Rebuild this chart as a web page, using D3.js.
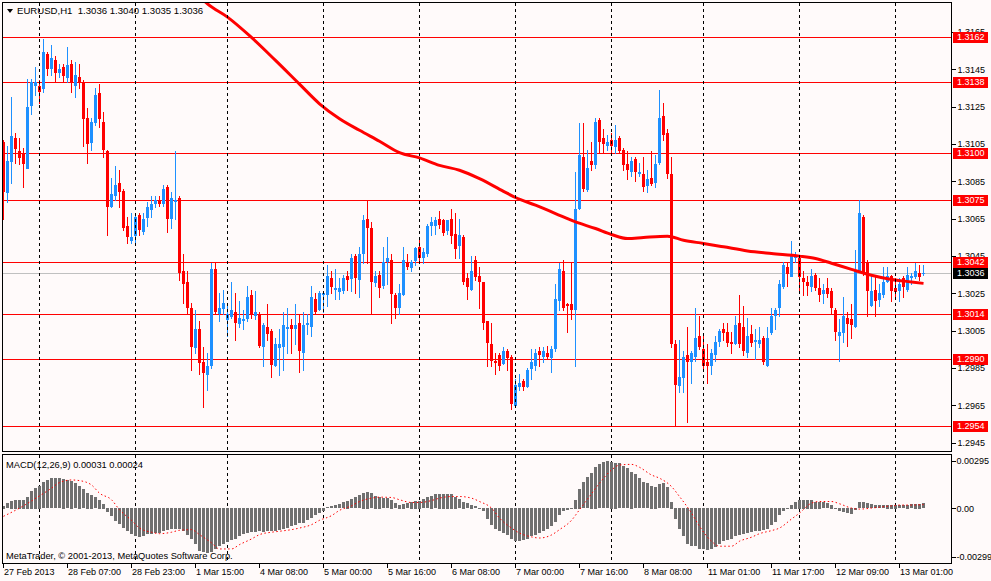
<!DOCTYPE html>
<html>
<head>
<meta charset="utf-8">
<script src="https://cdn.jsdelivr.net/npm/d3@7"></script>
<style>
  html, body { margin: 0; padding: 0; background: #fffafa; }
  svg { display: block; font-family: "Liberation Sans", Arial, sans-serif; }
  .tk text { font-size: 9px; fill: #000; }
</style>
</head>
<body>
<svg id="chart" width="991" height="581"></svg>
<script>
// EURUSD H1 bars, 27 Feb 2013 15:00 .. 13 Mar 2013 06:00
var opens = [
  1.3106,1.3079,1.3095,1.3108,1.3101,1.3100,1.3092,1.3125,1.3136,1.3136,
  1.3134,1.3153,1.3145,1.3150,1.3143,1.3146,1.3140,1.3148,1.3136,1.3141,
  1.3138,1.3119,1.3106,1.3116,1.3132,1.3117,1.3101,1.3071,1.3077,1.3084,
  1.3080,1.3061,1.3053,1.3056,1.3067,1.3058,1.3065,1.3070,1.3073,1.3075,
  1.3073,1.3082,1.3065,1.3074,1.3076,1.3037,1.3031,1.3017,1.2996,1.3006,
  1.2988,1.2981,1.2986,1.3038,1.3014,1.3017,1.3011,1.3012,1.3015,1.3009,
  1.3010,1.3011,1.3024,1.3013,1.3014,1.2996,1.3007,1.3005,1.2986,1.2996,
  1.2996,1.3006,1.3008,1.3006,1.3009,1.2993,1.3008,1.3007,1.3022,1.3016,
  1.3024,1.3024,1.3033,1.3027,1.3026,1.3026,1.3034,1.3033,1.3045,1.3032,
  1.3046,1.3065,1.3060,1.3030,1.3035,1.3029,1.3042,1.3043,1.3024,1.3017,
  1.3024,1.3041,1.3039,1.3042,1.3050,1.3044,1.3046,1.3061,1.3061,1.3065,
  1.3064,1.3058,1.3065,1.3057,1.3050,1.3055,1.3033,1.3027,1.3043,1.3034,
  1.3031,1.3010,1.2998,1.2989,1.2992,1.2987,1.2994,1.2991,1.2965,1.2975,
  1.2978,1.2975,1.2984,1.2986,1.2994,1.2991,1.2993,1.2990,1.2995,1.3021,
  1.3037,1.3019,1.3019,1.3016,1.3070,1.3098,1.3080,1.3096,1.3094,1.3118,
  1.3108,1.3104,1.3107,1.3103,1.3108,1.3102,1.3094,1.3090,1.3097,1.3089,
  1.3089,1.3082,1.3087,1.3084,1.3095,1.3120,1.3111,1.3089,1.2998,1.2975,
  1.2980,1.2992,1.2988,1.2991,1.3002,1.2995,1.2988,1.2986,1.2992,1.2999,
  1.3006,1.3004,1.2999,1.2998,1.3009,1.3007,1.2993,1.3003,1.2999,1.2998,
  1.3001,1.2986,1.3004,1.3013,1.3017,1.3028,1.3039,1.3034,1.3044,1.3044,
  1.3033,1.3031,1.3028,1.3035,1.3028,1.3025,1.3028,1.3026,1.3016,1.3002,
  1.3004,1.3012,1.3011,1.3007,1.3037,1.3066,1.3041,1.3018,1.3027,1.3021,
  1.3024,1.3031,1.3034,1.3028,1.3026,1.3033,1.3027,1.3033,1.3034,1.3036,
  1.3036
];
var highs = [
  1.3107,1.3104,1.3130,1.3111,1.3108,1.3103,1.3140,1.3140,1.3146,1.3139,
  1.3161,1.3154,1.3158,1.3152,1.3148,1.3148,1.3157,1.3150,1.3149,1.3148,
  1.3139,1.3124,1.3119,1.3135,1.3137,1.3122,1.3102,1.3087,1.3093,1.3091,
  1.3081,1.3066,1.3068,1.3068,1.3068,1.3068,1.3074,1.3077,1.3077,1.3077,
  1.3083,1.3083,1.3079,1.3101,1.3077,1.3046,1.3037,1.3020,1.3016,1.3010,
  1.2996,1.2993,1.3041,1.3041,1.3025,1.3027,1.3019,1.3031,1.3025,1.3021,
  1.3016,1.3029,1.3027,1.3026,1.3015,1.3009,1.3019,1.3006,1.3001,1.3006,
  1.3015,1.3017,1.3011,1.3019,1.3014,1.3015,1.3014,1.3029,1.3025,1.3026,
  1.3026,1.3040,1.3037,1.3038,1.3033,1.3035,1.3037,1.3046,1.3046,1.3050,
  1.3067,1.3075,1.3063,1.3037,1.3037,1.3050,1.3055,1.3046,1.3025,1.3030,
  1.3050,1.3046,1.3043,1.3050,1.3054,1.3049,1.3062,1.3066,1.3066,1.3069,
  1.3065,1.3064,1.3070,1.3068,1.3065,1.3056,1.3036,1.3045,1.3045,1.3039,
  1.3031,1.3010,1.3009,1.2993,1.2993,1.2996,1.2995,1.2992,1.2979,1.2982,
  1.2979,1.2985,1.2995,1.2995,1.2996,1.2996,1.2997,1.2997,1.3030,1.3041,
  1.3043,1.3020,1.3041,1.3090,1.3116,1.3116,1.3102,1.3106,1.3119,1.3119,
  1.3113,1.3110,1.3111,1.3115,1.3109,1.3103,1.3101,1.3098,1.3098,1.3095,
  1.3098,1.3091,1.3101,1.3099,1.3134,1.3127,1.3113,1.3098,1.3000,1.3000,
  1.2994,1.3007,1.2994,1.3017,1.3013,1.3003,1.2998,1.2995,1.3002,1.3006,
  1.3009,1.3009,1.3004,1.3013,1.3024,1.3018,1.3012,1.3008,1.3006,1.3007,
  1.3002,1.3007,1.3017,1.3017,1.3032,1.3042,1.3042,1.3053,1.3047,1.3045,
  1.3037,1.3034,1.3038,1.3036,1.3033,1.3030,1.3033,1.3028,1.3017,1.3011,
  1.3023,1.3015,1.3019,1.3048,1.3075,1.3067,1.3043,1.3035,1.3034,1.3030,
  1.3039,1.3039,1.3035,1.3033,1.3033,1.3034,1.3039,1.3036,1.3041,1.3040,
  1.3040
];
var lows = [
  1.3065,1.3074,1.3084,1.3095,1.3094,1.3082,1.3092,1.3121,1.3131,1.3127,
  1.3133,1.3142,1.3142,1.3138,1.3141,1.3138,1.3138,1.3133,1.3130,1.3135,
  1.3104,1.3095,1.3102,1.3115,1.3114,1.3098,1.3056,1.3071,1.3075,1.3071,
  1.3059,1.3052,1.3052,1.3051,1.3056,1.3057,1.3061,1.3066,1.3071,1.3072,
  1.3072,1.3058,1.3060,1.3065,1.3032,1.3020,1.3014,1.2984,1.2993,1.2982,
  1.2964,1.2973,1.2985,1.3014,1.3010,1.3014,1.3002,1.3012,1.3000,1.3007,
  1.3006,1.3010,1.3012,1.3011,1.2996,1.2986,1.3000,1.2980,1.2986,1.2981,
  1.2984,1.2993,1.2993,1.2998,1.2983,1.2984,1.3003,1.3002,1.3014,1.3016,
  1.3015,1.3018,1.3025,1.3022,1.3022,1.3025,1.3027,1.3026,1.3025,1.3023,
  1.3041,1.3041,1.3014,1.3029,1.3023,1.3028,1.3030,1.3009,1.3012,1.3014,
  1.3024,1.3038,1.3037,1.3040,1.3041,1.3041,1.3045,1.3056,1.3057,1.3060,
  1.3056,1.3057,1.3052,1.3044,1.3044,1.3030,1.3022,1.3027,1.3032,1.3017,
  1.3006,1.2986,1.2986,1.2982,1.2984,1.2987,1.2984,1.2963,1.2964,1.2973,
  1.2973,1.2975,1.2979,1.2984,1.2986,1.2988,1.2990,1.2983,1.2994,1.3016,
  1.3016,1.3004,1.3011,1.2986,1.3070,1.3080,1.3080,1.3091,1.3092,1.3100,
  1.3100,1.3102,1.3100,1.3100,1.3100,1.3091,1.3086,1.3088,1.3085,1.3088,
  1.3080,1.3079,1.3083,1.3082,1.3094,1.3107,1.3087,1.2996,1.2954,1.2972,
  1.2972,1.2956,1.2977,1.2989,1.2995,1.2984,1.2977,1.2982,1.2989,1.2997,
  1.3000,1.2997,1.2993,1.2998,1.2996,1.2992,1.2991,1.2997,1.2990,1.2996,
  1.2987,1.2986,1.3003,1.3006,1.3013,1.3028,1.3029,1.3034,1.3042,1.3027,
  1.3024,1.3024,1.3026,1.3027,1.3021,1.3020,1.3023,1.3014,1.3000,1.2989,
  1.2999,1.2997,1.3001,1.3007,1.3037,1.3035,1.3013,1.3018,1.3013,1.3018,
  1.3023,1.3031,1.3021,1.3022,1.3021,1.3023,1.3026,1.3030,1.3033,1.3032,
  1.3035
];
var closes = [
  1.3079,1.3096,1.3109,1.3102,1.3097,1.3094,1.3125,1.3138,1.3138,1.3133,
  1.3154,1.3145,1.3151,1.3143,1.3145,1.3141,1.3147,1.3138,1.3142,1.3138,
  1.3118,1.3105,1.3117,1.3131,1.3118,1.3102,1.3071,1.3078,1.3083,1.3079,
  1.3060,1.3055,1.3055,1.3066,1.3059,1.3065,1.3071,1.3073,1.3075,1.3073,
  1.3081,1.3065,1.3076,1.3075,1.3036,1.3030,1.3017,1.2996,1.3006,1.2988,
  1.2982,1.2986,1.3038,1.3015,1.3017,1.3020,1.3014,1.3016,1.3009,1.3012,
  1.3011,1.3023,1.3014,1.3015,1.2997,1.3008,1.3003,1.2987,1.2998,1.2998,
  1.3008,1.3007,1.3006,1.3008,1.2994,1.3008,1.3009,1.3023,1.3015,1.3025,
  1.3025,1.3034,1.3028,1.3028,1.3028,1.3033,1.3032,1.3044,1.3033,1.3046,
  1.3064,1.3060,1.3031,1.3034,1.3028,1.3042,1.3044,1.3025,1.3017,1.3025,
  1.3043,1.3039,1.3042,1.3049,1.3044,1.3047,1.3061,1.3063,1.3064,1.3062,
  1.3057,1.3064,1.3056,1.3049,1.3056,1.3031,1.3028,1.3037,1.3034,1.3031,
  1.3009,1.2998,1.2989,1.2988,1.2986,1.2994,1.2990,1.2966,1.2976,1.2977,
  1.2975,1.2984,1.2988,1.2993,1.2992,1.2994,1.2991,1.2995,1.3022,1.3038,
  1.3017,1.3018,1.3016,1.3070,1.3099,1.3081,1.3092,1.3094,1.3117,1.3106,
  1.3105,1.3106,1.3104,1.3107,1.3101,1.3094,1.3091,1.3096,1.3090,1.3090,
  1.3082,1.3086,1.3084,1.3094,1.3119,1.3110,1.3089,1.2998,1.2976,1.2980,
  1.2991,1.2988,1.2993,1.3001,1.2996,1.2986,1.2986,1.2993,1.2999,1.3005,
  1.3004,1.2998,1.2998,1.3008,1.2998,1.2994,1.3002,1.2998,1.3000,1.3000,
  1.2988,1.3001,1.3013,1.3016,1.3030,1.3040,1.3035,1.3045,1.3045,1.3034,
  1.3031,1.3029,1.3034,1.3028,1.3024,1.3027,1.3025,1.3017,1.3004,1.3004,
  1.3013,1.3009,1.3008,1.3037,1.3068,1.3036,1.3026,1.3026,1.3021,1.3025,
  1.3031,1.3034,1.3026,1.3026,1.3030,1.3028,1.3035,1.3034,1.3037,1.3034,
  1.3036
];

// moving average, read at knots along the thick red line
var maBars = [49, 51, 56, 62, 68, 74, 79, 84, 89, 94, 99, 104, 109, 114, 119, 125, 128, 133,
  138, 143, 148, 152, 156, 160, 166, 170, 175, 180, 186, 192, 199, 203, 207, 212, 217, 222, 227, 230];
var maValues = [1.31840, 1.31800, 1.31729, 1.31620, 1.31497, 1.31370, 1.31265, 1.31185, 1.31123,
  1.31064, 1.31003, 1.30975, 1.30935, 1.30909, 1.30864, 1.30796, 1.30763, 1.30722, 1.30677,
  1.30632, 1.30597, 1.30565, 1.30543, 1.30549, 1.30556, 1.30534, 1.30517, 1.30499, 1.30477,
  1.30463, 1.30449, 1.30436, 1.30411, 1.30378, 1.30347, 1.30324, 1.30311, 1.30303];

// MACD(12,26,9) main (histogram), one per bar
var macdMain = [
  0.00016,0.00033,0.00047,0.00054,0.00054,0.00054,0.00074,0.00109,0.00130,0.00140,
  0.00163,0.00177,0.00188,0.00188,0.00188,0.00184,0.00177,0.00173,0.00157,0.00142,
  0.00120,0.00099,0.00085,0.00070,0.00054,0.00029,-0.00025,-0.00049,-0.00080,-0.00101,
  -0.00126,-0.00146,-0.00163,-0.00177,-0.00179,-0.00177,-0.00163,-0.00159,-0.00157,-0.00153,
  -0.00142,-0.00136,-0.00132,-0.00132,-0.00132,-0.00142,-0.00169,-0.00194,-0.00225,-0.00266,
  -0.00276,-0.00280,-0.00272,-0.00252,-0.00239,-0.00225,-0.00210,-0.00198,-0.00190,-0.00177,
  -0.00163,-0.00153,-0.00148,-0.00148,-0.00146,-0.00148,-0.00146,-0.00142,-0.00142,-0.00138,
  -0.00132,-0.00124,-0.00115,-0.00107,-0.00095,-0.00091,-0.00074,-0.00064,-0.00045,-0.00033,
  -0.00019,0.00008,0.00012,0.00019,0.00027,0.00037,0.00049,0.00058,0.00070,0.00082,
  0.00099,0.00105,0.00095,0.00080,0.00074,0.00064,0.00064,0.00054,0.00033,0.00023,
  0.00029,0.00033,0.00043,0.00049,0.00049,0.00058,0.00070,0.00078,0.00089,0.00091,
  0.00091,0.00091,0.00091,0.00074,0.00058,0.00043,0.00033,0.00023,0.00012,-0.00003,
  -0.00019,-0.00070,-0.00107,-0.00128,-0.00146,-0.00157,-0.00169,-0.00190,-0.00204,-0.00204,
  -0.00198,-0.00190,-0.00177,-0.00165,-0.00153,-0.00142,-0.00128,-0.00111,-0.00087,-0.00045,
  -0.00021,-0.00012,-0.00004,0.00054,0.00122,0.00163,0.00194,0.00223,0.00260,0.00276,
  0.00287,0.00295,0.00291,0.00285,0.00280,0.00264,0.00249,0.00229,0.00214,0.00188,
  0.00163,0.00157,0.00140,0.00136,0.00151,0.00157,0.00132,0.00043,-0.00066,-0.00132,
  -0.00177,-0.00225,-0.00235,-0.00239,-0.00252,-0.00256,-0.00260,-0.00252,-0.00245,-0.00225,
  -0.00204,-0.00198,-0.00190,-0.00177,-0.00169,-0.00163,-0.00157,-0.00148,-0.00146,-0.00144,
  -0.00136,-0.00128,-0.00107,-0.00087,-0.00045,-0.00021,-0.00004,0.00023,0.00043,0.00054,
  0.00054,0.00054,0.00054,0.00043,0.00043,0.00037,0.00033,0.00023,-0.00008,-0.00019,
  -0.00025,-0.00029,-0.00039,-0.00012,0.00037,0.00039,0.00033,0.00027,0.00019,0.00019,
  0.00019,0.00023,0.00023,0.00023,0.00019,0.00019,0.00023,0.00027,0.00029,0.00029,
  0.00031
];

// MACD signal line, read at knots along the dotted red line
var sigBars = [0, 4, 9, 12, 14, 17, 19, 22, 24, 27, 29, 32, 34, 37, 39, 42, 44, 47, 49, 52, 54, 57,
  59, 62, 64, 67, 69, 72, 74, 77, 79, 82, 84, 87, 89, 92, 94, 97, 99, 102, 104, 107, 109, 112, 114,
  117, 119, 122, 124, 127, 129, 132, 134, 137, 139, 142, 144, 147, 149, 152, 154, 157, 159, 162,
  164, 167, 169, 172, 174, 177, 179, 182, 184, 187, 189, 192, 194, 197, 199, 202, 204, 207, 209,
  212, 214, 217, 219, 222, 224, 227, 230];
var sigValues = [-0.00049, 0.00002, 0.00078, 0.00126, 0.00161, 0.00177, 0.00173, 0.00146, 0.00095,
  0.00054, -0.00008, -0.00074, -0.00122, -0.00148, -0.00157, -0.00148, -0.00136, -0.00132, -0.00163,
  -0.00214, -0.00252, -0.00252, -0.00225, -0.00190, -0.00163, -0.00148, -0.00142, -0.00132, -0.00122,
  -0.00101, -0.00074, -0.00045, -0.00012, 0.00016, 0.00043, 0.00064, 0.00070, 0.00068, 0.00054,
  0.00037, 0.00037, 0.00049, 0.00064, 0.00074, 0.00074, 0.00064, 0.00043, 0.00002, -0.00060,
  -0.00122, -0.00153, -0.00177, -0.00184, -0.00165, -0.00132, -0.00074, -0.00008, 0.00091, 0.00157,
  0.00239, 0.00270, 0.00274, 0.00256, 0.00208, 0.00188, 0.00136, 0.00074, -0.00029, -0.00111,
  -0.00204, -0.00235, -0.00235, -0.00204, -0.00179, -0.00157, -0.00138, -0.00122, -0.00066, -0.00029,
  0.00033, 0.00043, 0.00043, 0.00029, 0.00002, -0.00004, 0.00002, 0.00008, 0.00016, 0.00021,
  0.00021, 0.00024];

var levels = [1.3162, 1.3138, 1.3100, 1.3075, 1.3042, 1.3014, 1.2990, 1.2954];
var bid = 1.3036;
var priceTicks = [1.2945, 1.2965, 1.2985, 1.3005, 1.3025, 1.3045, 1.3065, 1.3085, 1.3105, 1.3125, 1.3145, 1.3165];
var macdTicks = [0.00295, 0, -0.00299];
var macdTickLabels = ["0.00295", "0.00", "-0.00299"];
var dayBars = [9, 33, 56, 80, 104, 128, 152, 175, 199, 223];
var timeBars = [0, 16, 32, 48, 64, 80, 96, 112, 128, 144, 160, 176, 192, 208, 224];
var timeLabels = ["27 Feb 2013", "28 Feb 07:00", "28 Feb 23:00", "1 Mar 15:00", "4 Mar 08:00",
  "5 Mar 00:00", "5 Mar 16:00", "6 Mar 08:00", "7 Mar 00:00", "7 Mar 16:00", "8 Mar 08:00",
  "11 Mar 01:00", "11 Mar 17:00", "12 Mar 09:00", "13 Mar 01:00"];

var bull = "#1e90ff", bear = "#ff0000";

var svg = d3.select("#chart");
var left = 2, right = 951, mainTop = 2, mainBot = 451, macdTop = 454, macdBot = 563;

var x = d3.scaleLinear().domain([0, 237]).range([3.5, 951.5]);
var y = d3.scaleLinear().domain([1.2940, 1.3181]).range([452, 2]);
var y2 = d3.scaleLinear().domain([-0.00299, 0.00295]).range([556.5, 461]);

var defs = svg.append("defs");
defs.append("clipPath").attr("id", "clipMain")
  .append("rect").attr("x", left + 1).attr("y", mainTop + 1)
  .attr("width", right - left - 1).attr("height", mainBot - mainTop - 1);
defs.append("clipPath").attr("id", "clipMacd")
  .append("rect").attr("x", left + 1).attr("y", macdTop + 1)
  .attr("width", right - left - 1).attr("height", macdBot - macdTop - 1);

var bars = opens.map(function(o, i) {
  return {i: i, o: o, h: highs[i], l: lows[i], c: closes[i]};
});

// ---- main panel ----
var gMain = svg.append("g").attr("clip-path", "url(#clipMain)");

// day separators (both panels)
[[mainTop, mainBot], [macdTop, macdBot]].forEach(function(r) {
  svg.append("g").selectAll("line").data(dayBars).enter().append("line")
    .attr("x1", function(d) { return Math.floor(x(d)) + 0.5; })
    .attr("x2", function(d) { return Math.floor(x(d)) + 0.5; })
    .attr("y1", r[0] + 1).attr("y2", r[1])
    .attr("stroke", "#000").attr("stroke-dasharray", "3,3")
    .attr("shape-rendering", "crispEdges");
});

gMain.append("line")
  .attr("x1", left).attr("x2", right)
  .attr("y1", Math.round(y(bid)) + 0.5).attr("y2", Math.round(y(bid)) + 0.5)
  .attr("stroke", "#c0c0c0").attr("shape-rendering", "crispEdges");

gMain.selectAll(".lvl").data(levels).enter().append("line")
  .attr("class", "lvl")
  .attr("x1", left).attr("x2", right)
  .attr("y1", function(d) { return Math.round(y(d)) + 0.5; })
  .attr("y2", function(d) { return Math.round(y(d)) + 0.5; })
  .attr("stroke", "#ff0000").attr("shape-rendering", "crispEdges");

var candle = gMain.selectAll(".candle").data(bars).enter().append("g")
  .attr("class", "candle")
  .attr("fill", function(d) { return d.c >= d.o ? bull : bear; })
  .attr("stroke", function(d) { return d.c >= d.o ? bull : bear; });

candle.append("line")
  .attr("x1", function(d) { return Math.floor(x(d.i)) + 0.5; })
  .attr("x2", function(d) { return Math.floor(x(d.i)) + 0.5; })
  .attr("y1", function(d) { return Math.round(y(d.h)); })
  .attr("y2", function(d) { return Math.round(y(d.l)) + 1; })
  .attr("shape-rendering", "crispEdges");

candle.append("rect")
  .attr("stroke", "none")
  .attr("x", function(d) { return Math.floor(x(d.i)) - 1; })
  .attr("width", 3)
  .attr("y", function(d) { return Math.round(y(Math.max(d.o, d.c))); })
  .attr("height", function(d) { return Math.max(1, Math.round(Math.abs(y(d.o) - y(d.c)))); })
  .attr("shape-rendering", "crispEdges");

var maLine = d3.line()
  .x(function(d, i) { return x(maBars[i]); })
  .y(function(d) { return y(d); })
  .curve(d3.curveMonotoneX);
gMain.append("path").datum(maValues)
  .attr("d", maLine)
  .attr("fill", "none").attr("stroke", "#ff0000").attr("stroke-width", 3);

// header
svg.append("path").attr("d", "M7,9 L13,9 L10,13 Z").attr("fill", "#000");
svg.append("text").attr("x", 17).attr("y", 14).attr("font-size", "9.6px")
  .text("EURUSD,H1\u00a0\u00a01.3036 1.3040 1.3035 1.3036");

// ---- MACD panel ----
var gMacd = svg.append("g").attr("clip-path", "url(#clipMacd)");
gMacd.selectAll(".hist").data(macdMain).enter().append("rect")
  .attr("class", "hist")
  .attr("x", function(d, i) { return Math.floor(x(i)) - 1; })
  .attr("width", 3)
  .attr("y", function(d) { return Math.round(Math.min(y2(0), y2(d))); })
  .attr("height", function(d) { return Math.max(1, Math.round(Math.abs(y2(d) - y2(0)))); })
  .attr("fill", "#707070").attr("shape-rendering", "crispEdges");

var sigLine = d3.line()
  .x(function(d, i) { return x(sigBars[i]); })
  .y(function(d) { return y2(d); })
  .curve(d3.curveMonotoneX);
gMacd.append("path").datum(sigValues)
  .attr("d", sigLine)
  .attr("fill", "none").attr("stroke", "#ff0000").attr("stroke-width", 1)
  .attr("stroke-dasharray", "1.5,2.5");

svg.append("text").attr("x", 6).attr("y", 468).attr("font-size", "9.3px")
  .text("MACD(12,26,9) 0.00031 0.00024");
svg.append("text").attr("x", 6).attr("y", 559).attr("font-size", "9.3px")
  .text("MetaTrader, \u00a9 2001-2013, MetaQuotes Software Corp.");

// panel frames
svg.append("rect").attr("x", left + 0.5).attr("y", mainTop + 0.5)
  .attr("width", right - left).attr("height", mainBot - mainTop)
  .attr("fill", "none").attr("stroke", "#000").attr("shape-rendering", "crispEdges");
svg.append("rect").attr("x", left + 0.5).attr("y", macdTop + 0.5)
  .attr("width", right - left).attr("height", macdBot - macdTop)
  .attr("fill", "none").attr("stroke", "#000").attr("shape-rendering", "crispEdges");

// ---- axes ----
var priceAxis = svg.append("g").attr("class", "tk")
  .attr("transform", "translate(" + (right + 0.5) + ",0)")
  .call(d3.axisRight(y).tickValues(priceTicks).tickSize(4).tickPadding(2).tickFormat(d3.format(".4f")));
priceAxis.select(".domain").remove();
priceAxis.selectAll("line").attr("shape-rendering", "crispEdges");

// level tags on the price axis
var tags = svg.append("g");
levels.forEach(function(v) {
  var yy = Math.round(y(v));
  tags.append("rect").attr("x", 953).attr("y", yy - 5).attr("width", 35).attr("height", 11)
    .attr("fill", "#ff0000").attr("shape-rendering", "crispEdges");
  tags.append("text").attr("x", 957).attr("y", yy + 0.5).attr("dy", "0.33em")
    .attr("font-size", "9px").attr("fill", "#fff").text(d3.format(".4f")(v));
});
(function() {
  var yy = Math.round(y(bid));
  tags.append("rect").attr("x", 953).attr("y", yy - 5).attr("width", 35).attr("height", 11)
    .attr("fill", "#000").attr("shape-rendering", "crispEdges");
  tags.append("text").attr("x", 957).attr("y", yy + 0.5).attr("dy", "0.33em")
    .attr("font-size", "9px").attr("fill", "#fff").text(d3.format(".4f")(bid));
})();

var macdAxis = svg.append("g").attr("class", "tk")
  .attr("transform", "translate(" + (right + 0.5) + ",0)")
  .call(d3.axisRight(y2).tickValues(macdTicks).tickSize(4).tickPadding(1)
    .tickFormat(function(d, i) { return macdTickLabels[i]; }));
macdAxis.select(".domain").remove();
macdAxis.selectAll("line").attr("shape-rendering", "crispEdges");

var timeAxis = svg.append("g").attr("class", "tk")
  .attr("transform", "translate(0," + (macdBot + 0.5) + ")")
  .call(d3.axisBottom(x).tickValues(timeBars).tickSize(4).tickPadding(1)
    .tickFormat(function(d, i) { return timeLabels[i]; }));
timeAxis.select(".domain").remove();
timeAxis.selectAll("line")
  .attr("transform", "translate(-0.5,0)").attr("shape-rendering", "crispEdges");
timeAxis.selectAll("text").attr("text-anchor", "start").attr("x", 0);
</script>
</body>
</html>
